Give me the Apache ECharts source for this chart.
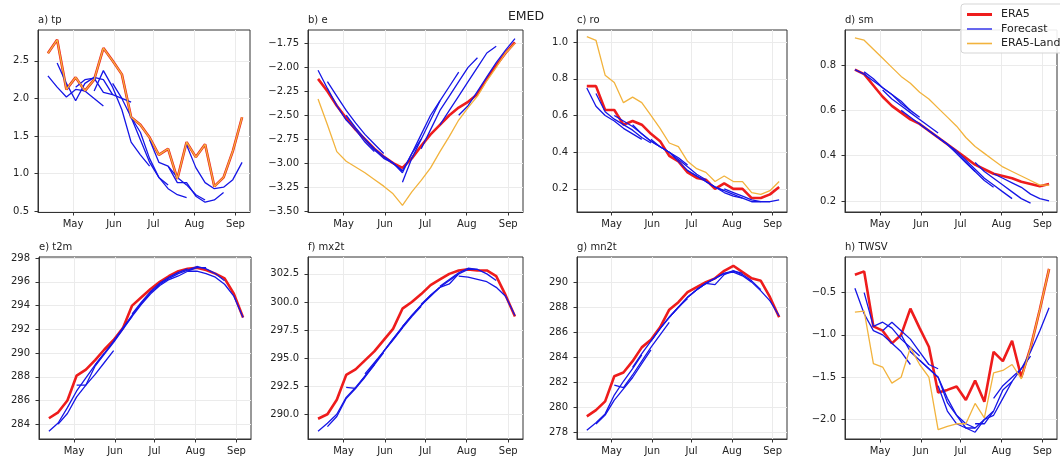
<!DOCTYPE html>
<html><head><meta charset="utf-8">
<script src="https://cdn.jsdelivr.net/npm/echarts@6/dist/echarts.min.js"></script>
<style>html,body{margin:0;padding:0;background:#fff}#c{width:1060px;height:463px}</style>
</head><body><div id="c"></div>
<script>
// weekly dates (x values)
const dates = ['2021-04-12','2021-04-19','2021-04-26','2021-05-03','2021-05-10','2021-05-17','2021-05-24','2021-05-31','2021-06-07','2021-06-14','2021-06-21','2021-06-28','2021-07-05','2021-07-12','2021-07-19','2021-07-26','2021-08-02','2021-08-09','2021-08-16','2021-08-23','2021-08-30','2021-09-06'];
const monthTicks = ['2021-05-01','2021-06-01','2021-07-01','2021-08-01','2021-09-01'];
const monthNames = ['Jan','Feb','Mar','Apr','May','Jun','Jul','Aug','Sep','Oct','Nov','Dec'];
// forecast start index (week) for each forecast run
const fcStart = [0, 1, 3, 5, 7, 9, 11, 13, 15];

// a) tp
const tpEra5 = [2.6, 2.78, 2.12, 2.28, 2.1, 2.25, 2.67, 2.5, 2.32, 1.75, 1.65, 1.48, 1.25, 1.33, 0.93, 1.42, 1.22, 1.39, 0.83, 0.95, 1.3, 1.75];
const tpLand = [2.6, 2.78, 2.12, 2.28, 2.1, 2.25, 2.67, 2.5, 2.32, 1.75, 1.65, 1.48, 1.25, 1.33, 0.93, 1.42, 1.22, 1.39, 0.83, 0.95, 1.3, 1.75];
const tpFc = [
  [2.3, 2.15, 2.02, 2.12, 2.1, 2.0, 1.9],
  [2.47, 2.2, 1.97, 2.2, 2.28, 2.25, 2.05],
  [2.15, 2.25, 2.27, 2.08, 2.05, 2.0, 1.95],
  [2.1, 2.37, 2.15, 1.85, 1.42, 1.25, 1.1],
  [2.2, 2.0, 1.75, 1.45, 1.15, 0.95, 0.85],
  [1.75, 1.55, 1.2, 0.95, 0.8, 0.72, 0.68],
  [1.45, 1.15, 1.1, 0.95, 0.85, 0.72, 0.65],
  [1.1, 0.88, 0.88, 0.7, 0.62, 0.65, 0.75],
  [1.38, 1.08, 0.88, 0.8, 0.82, 0.92, 1.15]
];
const tpTicks = [0.5, 1.0, 1.5, 2.0, 2.5];

// b) e
const eEra5 = [-2.12, -2.25, -2.4, -2.53, -2.65, -2.75, -2.85, -2.93, -3.0, -3.05, -2.95, -2.82, -2.7, -2.6, -2.5, -2.42, -2.36, -2.28, -2.12, -1.98, -1.85, -1.74];
const eLand = [-2.33, -2.6, -2.88, -2.98, -3.04, -3.1, -3.17, -3.24, -3.32, -3.44, -3.3, -3.18, -3.05, -2.88, -2.72, -2.55, -2.42, -2.3, -2.14, -2.0, -1.85, -1.75];
const eFc = [
  [-2.03, -2.22, -2.4, -2.55, -2.65, -2.78, -2.88],
  [-2.15, -2.3, -2.45, -2.58, -2.7, -2.8, -2.9],
  [-2.5, -2.63, -2.75, -2.86, -2.95, -3.0, -3.08],
  [-2.75, -2.85, -2.93, -3.0, -3.08, -2.9, -2.75],
  [-2.93, -3.0, -3.1, -2.9, -2.7, -2.5, -2.35],
  [-3.2, -2.95, -2.75, -2.55, -2.35, -2.2, -2.05],
  [-2.85, -2.65, -2.45, -2.3, -2.15, -2.0, -1.9],
  [-2.6, -2.45, -2.3, -2.15, -2.0, -1.85, -1.78],
  [-2.5, -2.4, -2.25, -2.1, -1.95, -1.82, -1.7]
];
const eTicks = [-3.5, -3.25, -3.0, -2.75, -2.5, -2.25, -2.0, -1.75];

// c) ro
const roEra5 = [0.76, 0.76, 0.63, 0.63, 0.55, 0.57, 0.55, 0.5, 0.46, 0.38, 0.35, 0.29, 0.26, 0.25, 0.2, 0.23, 0.2, 0.2, 0.15, 0.15, 0.17, 0.21];
const roLand = [1.03, 1.01, 0.82, 0.78, 0.67, 0.7, 0.67, 0.6, 0.53, 0.45, 0.43, 0.35, 0.31, 0.29, 0.24, 0.27, 0.24, 0.24, 0.18, 0.17, 0.19, 0.24];
const roFc = [
  [0.75, 0.65, 0.6, 0.57, 0.53, 0.5, 0.47],
  [0.72, 0.62, 0.58, 0.55, 0.52, 0.48, 0.45],
  [0.6, 0.57, 0.54, 0.5, 0.46, 0.43, 0.4],
  [0.55, 0.5, 0.46, 0.43, 0.4, 0.37, 0.33],
  [0.47, 0.43, 0.4, 0.36, 0.32, 0.28, 0.25],
  [0.4, 0.35, 0.3, 0.27, 0.24, 0.21, 0.19],
  [0.3, 0.27, 0.24, 0.21, 0.19, 0.17, 0.15],
  [0.24, 0.21, 0.18, 0.16, 0.15, 0.13, 0.13],
  [0.2, 0.18, 0.16, 0.14, 0.13, 0.13, 0.14]
];
const roTicks = [0.2, 0.4, 0.6, 0.8, 1.0];

// d) sm
const smEra5 = [0.78, 0.76, 0.71, 0.66, 0.62, 0.59, 0.56, 0.54, 0.51, 0.48, 0.45, 0.42, 0.39, 0.36, 0.34, 0.32, 0.31, 0.3, 0.285, 0.275, 0.265, 0.275];
const smLand = [0.92, 0.91, 0.87, 0.83, 0.79, 0.75, 0.72, 0.68, 0.65, 0.61, 0.57, 0.53, 0.48, 0.44, 0.41, 0.38, 0.35, 0.33, 0.31, 0.29, 0.27, 0.27];
const smFc = [
  [0.78, 0.76, 0.73, 0.7, 0.67, 0.64, 0.6],
  [0.77, 0.74, 0.7, 0.67, 0.63, 0.6, 0.57],
  [0.69, 0.65, 0.62, 0.59, 0.56, 0.53, 0.5],
  [0.6, 0.57, 0.54, 0.51, 0.48, 0.45, 0.42],
  [0.54, 0.51, 0.48, 0.45, 0.41, 0.37, 0.33],
  [0.48, 0.45, 0.41, 0.37, 0.33, 0.29, 0.26],
  [0.42, 0.38, 0.34, 0.3, 0.27, 0.24, 0.21],
  [0.37, 0.33, 0.3, 0.27, 0.24, 0.21, 0.19],
  [0.32, 0.3, 0.28, 0.26, 0.23, 0.21, 0.2]
];
const smTicks = [0.2, 0.4, 0.6, 0.8];

// e) t2m
const t2mEra5 = [284.5, 285.0, 286.0, 288.1, 288.6, 289.4, 290.3, 291.1, 292.1, 294.0, 294.7, 295.4, 296.0, 296.5, 296.9, 297.1, 297.2, 297.0, 296.7, 296.3, 295.0, 293.0];
const t2mFc = [
  [283.4, 284.1, 285.4, 286.8, 287.9, 289.0, 290.0],
  [284.0, 284.9, 286.3, 287.3, 288.2, 289.2, 290.2],
  [287.3, 287.3, 288.9, 289.9, 290.9, 292.0, 293.1],
  [289.0, 290.0, 291.0, 292.1, 293.1, 294.1, 295.0],
  [291.0, 292.1, 293.2, 294.2, 295.1, 295.8, 296.3],
  [293.3, 294.3, 295.2, 295.9, 296.4, 296.8, 297.1],
  [295.0, 295.7, 296.2, 296.5, 296.9, 297.2, 297.2],
  [296.3, 296.7, 297.0, 297.3, 297.1, 296.7, 296.1],
  [296.9, 296.9, 296.7, 296.4, 295.8, 294.8, 293.0]
];
const t2mTicks = [284, 286, 288, 290, 292, 294, 296, 298];

// f) mx2t
const mx2tEra5 = [289.6, 290.0, 291.3, 293.5, 294.0, 294.8, 295.6, 296.6, 297.6, 299.4, 300.0, 300.7, 301.5, 302.0, 302.5, 302.8, 302.9, 302.8, 302.8, 302.3, 300.6, 298.7];
const mx2tFc = [
  [288.5, 289.2, 290.0, 291.5, 292.4, 293.4, 294.4],
  [288.9, 289.8, 291.4, 292.3, 293.3, 294.4, 295.5],
  [292.4, 292.3, 293.4, 294.5, 295.6, 296.6, 297.7],
  [293.6, 294.6, 295.6, 296.7, 297.7, 298.7, 299.6],
  [295.6, 296.7, 297.8, 298.8, 299.7, 300.5, 301.3],
  [297.8, 298.8, 299.7, 300.6, 301.3, 301.9, 302.5],
  [299.8, 300.6, 301.3, 301.6, 302.5, 302.9, 302.9],
  [301.4, 302.0, 302.6, 303.0, 302.9, 302.5, 301.9],
  [302.3, 302.2, 302.0, 301.8, 301.3, 300.5, 298.8]
];
const mx2tTicks = [290, 292.5, 295, 297.5, 300, 302.5];

// g) mn2t
const mn2tEra5 = [279.3, 279.8, 280.5, 282.5, 282.8, 283.7, 284.8, 285.4, 286.4, 287.8, 288.4, 289.2, 289.6, 290.0, 290.3, 290.9, 291.3, 290.8, 290.3, 290.1, 288.8, 287.2];
const mn2tFc = [
  [278.2, 278.8, 279.5, 281.0, 282.1, 283.1, 284.2],
  [278.7, 279.4, 280.6, 281.5, 282.4, 283.5, 284.6],
  [281.8, 281.6, 282.6, 283.7, 284.8, 285.8, 286.8],
  [283.2, 284.3, 285.3, 286.3, 287.2, 288.0, 288.7],
  [285.3, 286.3, 287.2, 288.0, 288.8, 289.4, 289.9],
  [287.2, 288.0, 288.8, 289.4, 289.9, 290.3, 290.7],
  [288.8, 289.4, 289.9, 289.8, 290.6, 290.9, 290.7],
  [289.9, 290.3, 290.7, 290.9, 290.6, 290.1, 289.4],
  [290.7, 290.8, 290.5, 290.0, 289.3, 288.5, 287.3]
];
const mn2tTicks = [278, 280, 282, 284, 286, 288, 290];

// h) TWSV
const twsEra5 = [-0.29, -0.25, -0.9, -0.95, -1.1, -1.0, -0.69, -0.92, -1.14, -1.68, -1.65, -1.61, -1.77, -1.54, -1.79, -1.2, -1.31, -1.07, -1.5, -1.15, -0.7, -0.22];
const twsLand = [-0.73, -0.72, -1.34, -1.38, -1.57, -1.5, -1.15, -1.35, -1.5, -2.12, -2.08, -2.05, -2.05, -1.81, -1.98, -1.45, -1.42, -1.35, -1.52, -1.15, -0.7, -0.22];
const twsFc = [
  [-0.45, -0.75, -0.95, -1.0, -1.1, -1.2, -1.35],
  [-0.5, -0.9, -0.85, -0.92, -1.05, -1.15, -1.25],
  [-0.95, -0.85, -0.95, -1.05, -1.2, -1.35, -1.4],
  [-1.0, -1.2, -1.3, -1.4, -1.5, -1.8, -1.95],
  [-1.3, -1.4, -1.5, -1.75, -1.95, -2.05, -2.1],
  [-1.6, -1.9, -2.05, -2.1, -2.1, -2.0, -1.9],
  [-1.95, -2.1, -2.15, -2.0, -1.95, -1.75, -1.55],
  [-2.05, -2.05, -1.9, -1.65, -1.55, -1.4, -1.25],
  [-1.75, -1.6, -1.5, -1.4, -1.2, -0.95, -0.68]
];
const twsTicks = [-2.0, -1.5, -1.0, -0.5];

const panelTitles = ['a) tp', 'b) e', 'c) ro', 'd) sm', 'e) t2m', 'f) mx2t', 'g) mn2t', 'h) TWSV'];

// ---- build ----
const panels = [
  {era5: tpEra5, land: tpLand, fc: tpFc, ticks: tpTicks, dec: 1, min: 0.49, max: 2.91},
  {era5: eEra5, land: eLand, fc: eFc, ticks: eTicks, dec: 2, min: -3.51, max: -1.61},
  {era5: roEra5, land: roLand, fc: roFc, ticks: roTicks, dec: 1, min: 0.074, max: 1.066},
  {era5: smEra5, land: smLand, fc: smFc, ticks: smTicks, dec: 1, min: 0.151, max: 0.955},
  {era5: t2mEra5, land: null, fc: t2mFc, ticks: t2mTicks, dec: 0, min: 282.75, max: 298.1},
  {era5: mx2tEra5, land: null, fc: mx2tFc, ticks: mx2tTicks, dec: 1, min: 287.8, max: 304.0},
  {era5: mn2tEra5, land: null, fc: mn2tFc, ticks: mn2tTicks, dec: 0, min: 277.5, max: 292.0},
  {era5: twsEra5, land: twsLand, fc: twsFc, ticks: twsTicks, dec: 1, min: -2.23, max: -0.08}
];
const layout = [
  {left: 38, top: 30, width: 212, height: 182},
  {left: 308, top: 30, width: 215, height: 182},
  {left: 577, top: 30, width: 210, height: 182},
  {left: 845, top: 30, width: 212, height: 182},
  {left: 39, top: 257, width: 212, height: 182},
  {left: 308, top: 257, width: 215, height: 182},
  {left: 577, top: 257, width: 210, height: 182},
  {left: 845, top: 257, width: 212, height: 182}
];

const FONT = 'DejaVu Sans';
const toMs = s => { const p = s.split('-').map(Number); return new Date(p[0], p[1]-1, p[2]).getTime(); };
const xMin = new Date(2021, 3, 4, 12).getTime();
const xMax = new Date(2021, 8, 12, 0).getTime();
const monthMs = monthTicks.map(toMs);
const fmtNum = (v, d) => (v < 0 ? '\u2212' : '') + Math.abs(v).toFixed(d);

const RED = '#ee1c1c', BLUE = '#1616e6', ORANGE = '#f2b33d';

const grids = [], xAxes = [], yAxes = [], series = [], graphics = [];
panels.forEach((p, k) => {
  const L = layout[k];
  grids.push({left: L.left, top: L.top, width: L.width, height: L.height, show: true, borderColor: '#333', borderWidth: 1, backgroundColor: 'transparent'});
  xAxes.push({
    type: 'value', gridIndex: k, min: xMin, max: xMax,
    axisLine: {show: true, lineStyle: {color: '#333', width: 1}},
    axisTick: {show: true, customValues: monthMs, length: 3.5, lineStyle: {color: '#333'}},
    axisLabel: {customValues: monthMs, formatter: v => monthNames[new Date(v).getMonth()], fontSize: 10, fontFamily: FONT, color: '#222', margin: 7, hideOverlap: false},
    splitLine: {show: true, lineStyle: {color: '#ebebeb', width: 1}}
  });
  yAxes.push({
    type: 'value', gridIndex: k, min: p.min, max: p.max, scale: true,
    axisLine: {show: true, lineStyle: {color: '#333', width: 1}},
    axisTick: {show: true, customValues: p.ticks, length: 3.5, lineStyle: {color: '#333'}},
    axisLabel: {customValues: p.ticks, formatter: v => fmtNum(v, p.dec), fontSize: 10, fontFamily: FONT, color: '#222', margin: 9},
    splitLine: {show: true, lineStyle: {color: '#ebebeb', width: 1}}
  });
  series.push({
    name: 'ERA5', type: 'line', xAxisIndex: k, yAxisIndex: k, symbol: 'none', z: 2,
    data: p.era5.map((v, i) => [toMs(dates[i]), v]),
    lineStyle: {color: RED, width: 2.6}, itemStyle: {color: RED}, animation: false, silent: true
  });
  p.fc.forEach((vals, j) => {
    const s = fcStart[j];
    series.push({
      name: 'Forecast', type: 'line', xAxisIndex: k, yAxisIndex: k, symbol: 'none', z: 3,
      data: vals.map((v, i) => [toMs(dates[s + i]), v]),
      lineStyle: {color: BLUE, width: 1.3}, itemStyle: {color: BLUE}, animation: false, silent: true
    });
  });
  if (p.land) {
    series.push({
      name: 'ERA5-Land', type: 'line', xAxisIndex: k, yAxisIndex: k, symbol: 'none', z: 4,
      data: p.land.map((v, i) => [toMs(dates[i]), v]),
      lineStyle: {color: ORANGE, width: 1.3}, itemStyle: {color: ORANGE}, animation: false, silent: true
    });
  }
  graphics.push({type: 'text', x: L.left, y: L.top - 10, style: {text: panelTitles[k], fontSize: 10, fontFamily: FONT, fill: '#222', verticalAlign: 'middle', align: 'left'}});
});
graphics.push({type: 'text', x: 526, y: 17, style: {text: 'EMED', fontSize: 12.5, fontFamily: FONT, fill: '#222', verticalAlign: 'middle', align: 'center'}});

const chart = echarts.init(document.getElementById('c'), null, {renderer: 'canvas'});
chart.setOption({
  animation: false,
  backgroundColor: '#fff',
  textStyle: {fontFamily: FONT},
  grid: grids, xAxis: xAxes, yAxis: yAxes, series: series,
  graphic: graphics,
  legend: {
    data: [
      {name: 'ERA5', icon: 'path://M0,0H25V3H0Z'},
      {name: 'Forecast', icon: 'path://M0,0H25V1.3H0Z'},
      {name: 'ERA5-Land', icon: 'path://M0,0H25V1.6H0Z'}
    ],
    orient: 'vertical', left: 961, top: 4,
    itemWidth: 25, itemHeight: 14, itemGap: 3.5, padding: [5, 12, 4, 6],
    itemStyle: {borderWidth: 0},
    textStyle: {fontSize: 11, fontFamily: FONT, color: '#222', padding: [0, 0, 0, 4]},
    borderColor: '#d5d5d5', borderWidth: 1, borderRadius: 3, backgroundColor: 'rgba(255,255,255,0.9)',
    selectedMode: false, z: 10
  }
});
</script></body></html>
